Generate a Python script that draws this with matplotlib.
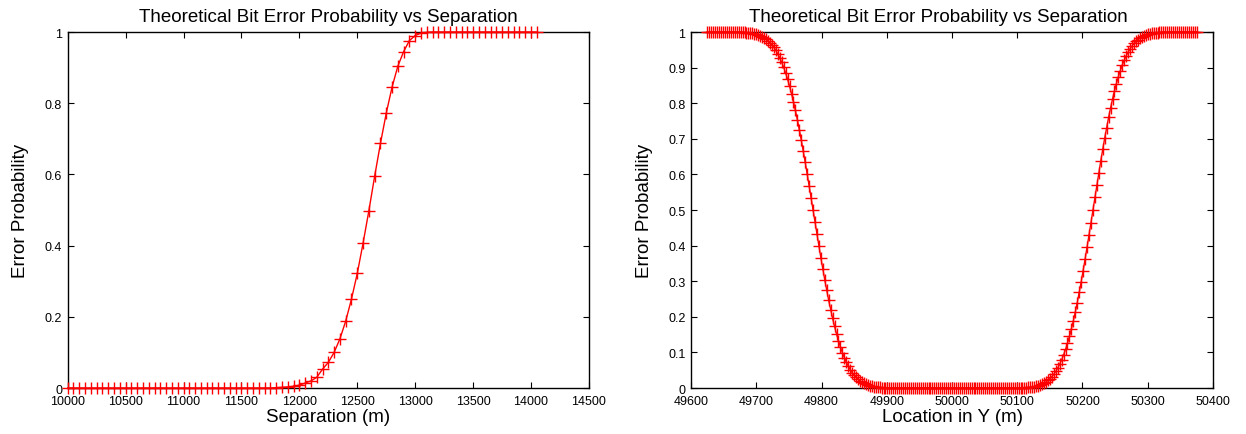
"""Theoretical bit error probability plots (two panels, gnuplot look)."""

import matplotlib
matplotlib.use("Agg")
import matplotlib.pyplot as plt
import numpy as np

plt.rcParams["font.family"] = ["Liberation Sans", "DejaVu Sans"]

# left panel: error probability vs separation (m), step 50 m
sep_x = np.arange(10000, 14051, 50)
sep_p = [
    0.0, 0.0, 0.0, 0.0, 0.0, 0.0, 0.0, 0.0, 0.0, 0.0, 0.0, 0.0,
    0.0, 0.0, 0.0, 0.0, 0.0, 0.0, 0.0, 0.0, 0.0, 0.0, 0.0, 0.0,
    0.0, 0.0, 0.0, 0.0, 0.0, 0.0, 0.0, 0.0, 0.0, 0.0, 0.0, 0.0,
    0.001, 0.002, 0.003, 0.005, 0.008, 0.014, 0.020, 0.030, 0.053,
    0.072, 0.100, 0.138, 0.188, 0.250, 0.322, 0.407, 0.498, 0.595,
    0.687, 0.772, 0.845, 0.904, 0.945, 0.976, 0.990, 0.997, 0.999,
    1.0, 1.0, 1.0, 1.0, 1.0, 1.0, 1.0, 1.0, 1.0, 1.0,
    1.0, 1.0, 1.0, 1.0, 1.0, 1.0, 1.0, 1.0, 1.0,
]

# right panel: error probability vs location in Y (m), step 3 m
loc_x = np.arange(49625, 50376, 3)
loc_p = [
    # 49625 .. 49679
    1.0, 1.0, 1.0, 1.0, 1.0, 1.0, 1.0, 1.0, 1.0, 1.0,
    1.0, 1.0, 1.0, 1.0, 1.0, 1.0, 1.0, 1.0, 0.999,
    # 49682 .. 49892
    0.9987, 0.9982, 0.9977, 0.9970, 0.9961, 0.9949, 0.9935, 0.9918,
    0.9897, 0.9871, 0.9839, 0.9802, 0.9757, 0.9703, 0.9641, 0.9568,
    0.9483, 0.9386, 0.9275, 0.9149, 0.9008, 0.8849, 0.8674, 0.8482,
    0.8271, 0.8043, 0.7797, 0.7537, 0.7257, 0.6964, 0.6660, 0.6342,
    0.6015, 0.5680, 0.5341, 0.5000, 0.4659, 0.4320, 0.3985, 0.3658,
    0.3340, 0.3036, 0.2743, 0.2463, 0.2203, 0.1957, 0.1729, 0.1518,
    0.1326, 0.1151, 0.0992, 0.0851, 0.0725, 0.0614, 0.0517, 0.0432,
    0.0359, 0.0297, 0.0243, 0.0198, 0.0161, 0.0129, 0.0103, 0.0082,
    0.0065, 0.0051, 0.0039, 0.0030, 0.0023, 0.0018, 0.0013,
    # 49895 .. 50111
    0.001, 0.001, 0.0, 0.0, 0.0, 0.0, 0.0, 0.0, 0.0, 0.0,
    0.0, 0.0, 0.0, 0.0, 0.0, 0.0, 0.0, 0.0, 0.0, 0.0,
    0.0, 0.0, 0.0, 0.0, 0.0, 0.0, 0.0, 0.0, 0.0, 0.0,
    0.0, 0.0, 0.0, 0.0, 0.0, 0.0, 0.0, 0.0, 0.0, 0.0,
    0.0, 0.0, 0.0, 0.0, 0.0, 0.0, 0.0, 0.0, 0.0, 0.0,
    0.0, 0.0, 0.0, 0.0, 0.0, 0.0, 0.0, 0.0, 0.0, 0.0,
    0.0, 0.0, 0.0, 0.0, 0.0, 0.0, 0.0, 0.0, 0.0, 0.0,
    0.0, 0.001, 0.001,
    # 50114 .. 50318
    0.0013, 0.0018, 0.0024, 0.0031, 0.0041, 0.0052, 0.0067, 0.0086,
    0.0109, 0.0137, 0.0171, 0.0212, 0.0261, 0.0319, 0.0388, 0.0468,
    0.0561, 0.0668, 0.0790, 0.0928, 0.1084, 0.1257, 0.1448, 0.1659,
    0.1888, 0.2136, 0.2401, 0.2684, 0.2983, 0.3295, 0.3621, 0.3956,
    0.4300, 0.4648, 0.5000, 0.5352, 0.5700, 0.6044, 0.6379, 0.6705,
    0.7017, 0.7316, 0.7599, 0.7864, 0.8112, 0.8341, 0.8552, 0.8743,
    0.8916, 0.9072, 0.9210, 0.9332, 0.9439, 0.9532, 0.9612, 0.9681,
    0.9739, 0.9788, 0.9829, 0.9863, 0.9891, 0.9914, 0.9933, 0.9948,
    0.9959, 0.9969, 0.9976, 0.9982, 0.9987,
    # 50321 .. 50375
    0.999, 1.0, 1.0, 1.0, 1.0, 1.0, 1.0, 1.0, 1.0, 1.0,
    1.0, 1.0, 1.0, 1.0, 1.0, 1.0, 1.0, 1.0, 1.0,
]

title = "Theoretical Bit Error Probability vs Separation"
sep_ticks = np.arange(10000, 14501, 500)
loc_ticks = np.arange(49600, 50401, 100)


def style_axes(ax, xticks, yticks, xlim, title_x):
    ax.set_xlim(*xlim)
    ax.set_ylim(0, 1)
    ax.set_xticks(xticks)
    ax.set_yticks(yticks)
    ax.set_xticklabels([f"{v:d}" for v in xticks])
    ax.set_yticklabels([f"{v:g}" for v in yticks])
    ax.tick_params(direction="in", length=4, width=0.8, top=True, right=True,
                   labelsize=9, colors="black")
    ax.tick_params(axis="x", pad=5)
    ax.tick_params(axis="y", pad=4)
    for s in ax.spines.values():
        s.set_linewidth(1.0)
        s.set_zorder(1)
    ax.set_title(title, fontsize=13.5, pad=8, x=title_x)
    ax.set_ylabel("Error Probability", fontsize=13.5, labelpad=11)


fig = plt.figure(figsize=(12.46, 4.35), dpi=100)
ax1 = fig.add_axes([0.0543, 0.1057, 0.4184, 0.8184])
ax2 = fig.add_axes([0.5546, 0.1057, 0.4189, 0.8184])

ax1.plot(sep_x, sep_p, color="red", lw=1.0, marker="+", ms=8, mew=1.0,
         clip_on=False, zorder=3)
style_axes(ax1, sep_ticks, np.round(np.arange(0, 1.01, 0.2), 1),
           (10000, 14500), 0.5)
ax1.set_xlabel("Separation (m)", fontsize=13.5, labelpad=1)

ax2.plot(loc_x, loc_p, color="red", lw=1.0, marker="+", ms=8, mew=1.0,
         clip_on=False, zorder=3)
style_axes(ax2, loc_ticks, np.round(np.arange(0, 1.01, 0.1), 1),
           (49600, 50400), 0.473)
ax2.set_xlabel("Location in Y (m)", fontsize=13.5, labelpad=1)

fig.savefig("out.png", dpi=100)
plt.close(fig)
